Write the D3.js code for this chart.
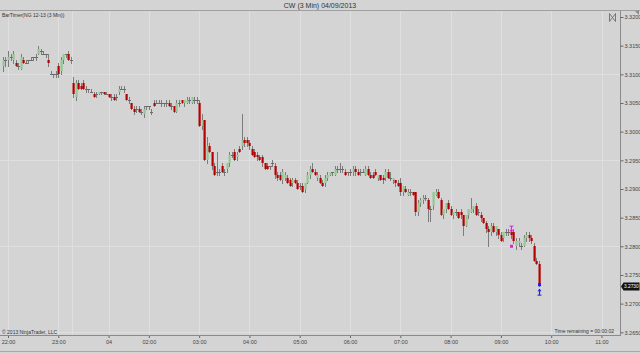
<!DOCTYPE html>
<html>
<head>
<meta charset="utf-8">
<script src="https://cdn.jsdelivr.net/npm/d3@7"></script>
<style>
  body { margin: 0; background: #d4d4d4; }
  svg { display: block; font-family: "Liberation Sans", Arial, sans-serif; }
</style>
</head>
<body>
<script>
// ---- data ----
var title = "CW (3 Min)  04/09/2013";
var timeLabels = ["22:00","23:00","04","02:00","03:00","04:00","05:00","06:00","07:00","08:00","09:00","10:00","11:00"];
var timeSlots  = [0, 20, 40, 56, 76, 96, 116, 136, 156, 176, 196, 216, 236];
var sessionBreakSlot = 25.5;
var priceTicks = [3.2650,3.2700,3.2750,3.2800,3.2850,3.2900,3.2950,3.3000,3.3050,3.3100,3.3150,3.3200];
var gridPrices = [3.3100, 3.2950, 3.2800, 3.2650];
var lastPrice = 3.2730;
var firstSlot = -2;

// open, high, low, close per 3 min bar
var bars = [
[3.3115,3.3130,3.3105,3.3125],[3.3125,3.3130,3.3115,3.3125],[3.3125,3.3140,3.3115,3.3130],[3.3130,3.3135,3.3125,3.3130],
[3.3125,3.3140,3.3120,3.3135],[3.3120,3.3125,3.3115,3.3115],[3.3115,3.3120,3.3110,3.3115],[3.3110,3.3135,3.3110,3.3130],
[3.3125,3.3130,3.3120,3.3120],[3.3120,3.3125,3.3120,3.3120],[3.3125,3.3125,3.3120,3.3125],[3.3125,3.3130,3.3125,3.3125],
[3.3130,3.3130,3.3125,3.3130],[3.3130,3.3135,3.3125,3.3130],[3.3135,3.3150,3.3135,3.3145],[3.3140,3.3145,3.3135,3.3140],
[3.3135,3.3140,3.3135,3.3135],[3.3135,3.3135,3.3130,3.3135],[3.3125,3.3135,3.3115,3.3120],[3.3100,3.3105,3.3100,3.3100],
[3.3100,3.3100,3.3095,3.3100],[3.3100,3.3105,3.3095,3.3100],[3.3115,3.3120,3.3095,3.3100],[3.3105,3.3130,3.3100,3.3125],
[3.3125,3.3135,3.3120,3.3135],[3.3135,3.3135,3.3130,3.3135],[3.3135,3.3140,3.3125,3.3125],[3.3125,3.3130,3.3120,3.3125],
[3.3085,3.3095,3.3060,3.3065],[3.3060,3.3090,3.3055,3.3085],[3.3085,3.3090,3.3075,3.3075],[3.3080,3.3085,3.3075,3.3075],
[3.3085,3.3090,3.3075,3.3075],[3.3075,3.3080,3.3070,3.3075],[3.3075,3.3075,3.3070,3.3075],[3.3070,3.3075,3.3070,3.3070],
[3.3065,3.3070,3.3060,3.3060],[3.3065,3.3070,3.3060,3.3065],[3.3065,3.3070,3.3065,3.3070],[3.3070,3.3070,3.3065,3.3070],
[3.3070,3.3070,3.3065,3.3065],[3.3065,3.3070,3.3065,3.3065],[3.3065,3.3065,3.3060,3.3060],[3.3060,3.3065,3.3055,3.3060],
[3.3060,3.3065,3.3055,3.3055],[3.3060,3.3065,3.3055,3.3060],[3.3070,3.3080,3.3065,3.3075],[3.3075,3.3080,3.3075,3.3075],
[3.3075,3.3080,3.3070,3.3075],[3.3065,3.3065,3.3055,3.3055],[3.3055,3.3060,3.3050,3.3055],[3.3050,3.3050,3.3040,3.3040],
[3.3040,3.3045,3.3030,3.3035],[3.3040,3.3045,3.3035,3.3040],[3.3040,3.3045,3.3035,3.3035],[3.3035,3.3040,3.3030,3.3035],
[3.3030,3.3045,3.3025,3.3040],[3.3045,3.3045,3.3040,3.3045],[3.3045,3.3045,3.3040,3.3045],[3.3035,3.3040,3.3030,3.3035],
[3.3050,3.3055,3.3045,3.3045],[3.3050,3.3055,3.3050,3.3050],[3.3050,3.3055,3.3050,3.3050],[3.3050,3.3055,3.3045,3.3050],
[3.3050,3.3050,3.3045,3.3050],[3.3050,3.3055,3.3045,3.3050],[3.3050,3.3055,3.3045,3.3045],[3.3045,3.3050,3.3040,3.3045],
[3.3045,3.3045,3.3035,3.3035],[3.3035,3.3055,3.3035,3.3050],[3.3050,3.3055,3.3045,3.3050],[3.3055,3.3055,3.3050,3.3050],
[3.3050,3.3055,3.3045,3.3055],[3.3050,3.3060,3.3050,3.3055],[3.3055,3.3060,3.3050,3.3055],[3.3050,3.3060,3.3050,3.3060],
[3.3055,3.3060,3.3050,3.3055],[3.3055,3.3060,3.3050,3.3055],[3.3050,3.3055,3.3010,3.3010],[3.3010,3.3030,3.3005,3.3020],
[3.3020,3.3020,3.2950,3.2950],[3.2950,3.2990,3.2945,3.2975],[3.2975,3.2980,3.2965,3.2965],[3.2965,3.2965,3.2935,3.2940],
[3.2940,3.2945,3.2925,3.2925],[3.2930,3.2965,3.2925,3.2930],[3.2930,3.2935,3.2925,3.2930],[3.2940,3.2945,3.2930,3.2930],
[3.2930,3.2935,3.2925,3.2930],[3.2935,3.2945,3.2930,3.2945],[3.2945,3.2965,3.2940,3.2960],[3.2960,3.2965,3.2955,3.2960],
[3.2965,3.2970,3.2950,3.2950],[3.2955,3.2965,3.2950,3.2960],[3.2970,3.2975,3.2965,3.2965],[3.2975,3.3030,3.2970,3.2985],
[3.2985,3.2990,3.2975,3.2980],[3.2985,3.2990,3.2975,3.2980],[3.2980,3.2985,3.2970,3.2975],[3.2970,3.2975,3.2960,3.2960],
[3.2965,3.2970,3.2955,3.2955],[3.2960,3.2965,3.2950,3.2955],[3.2955,3.2960,3.2950,3.2950],[3.2955,3.2960,3.2940,3.2945],
[3.2945,3.2945,3.2935,3.2935],[3.2940,3.2945,3.2935,3.2935],[3.2940,3.2940,3.2935,3.2940],[3.2945,3.2950,3.2940,3.2945],
[3.2940,3.2945,3.2920,3.2925],[3.2925,3.2930,3.2915,3.2920],[3.2925,3.2930,3.2915,3.2915],[3.2915,3.2935,3.2910,3.2930],
[3.2920,3.2930,3.2915,3.2925],[3.2920,3.2925,3.2910,3.2910],[3.2915,3.2920,3.2905,3.2905],[3.2910,3.2920,3.2905,3.2915],
[3.2915,3.2920,3.2910,3.2910],[3.2910,3.2915,3.2900,3.2900],[3.2905,3.2910,3.2900,3.2905],[3.2905,3.2910,3.2895,3.2895],
[3.2900,3.2910,3.2895,3.2910],[3.2910,3.2930,3.2910,3.2925],[3.2925,3.2940,3.2920,3.2935],[3.2935,3.2945,3.2930,3.2930],
[3.2930,3.2935,3.2925,3.2925],[3.2920,3.2930,3.2915,3.2925],[3.2920,3.2925,3.2910,3.2910],[3.2910,3.2915,3.2905,3.2905],
[3.2910,3.2925,3.2905,3.2920],[3.2920,3.2930,3.2915,3.2925],[3.2925,3.2930,3.2925,3.2930],[3.2930,3.2930,3.2925,3.2930],
[3.2925,3.2940,3.2925,3.2935],[3.2935,3.2940,3.2930,3.2935],[3.2935,3.2945,3.2930,3.2935],[3.2935,3.2940,3.2930,3.2935],
[3.2930,3.2935,3.2925,3.2925],[3.2930,3.2930,3.2925,3.2930],[3.2930,3.2935,3.2925,3.2930],[3.2930,3.2940,3.2925,3.2935],
[3.2935,3.2940,3.2925,3.2930],[3.2930,3.2935,3.2925,3.2925],[3.2930,3.2935,3.2925,3.2930],[3.2930,3.2935,3.2930,3.2930],
[3.2925,3.2940,3.2925,3.2935],[3.2935,3.2940,3.2925,3.2925],[3.2925,3.2930,3.2920,3.2920],[3.2925,3.2930,3.2920,3.2920],
[3.2930,3.2935,3.2925,3.2925],[3.2920,3.2925,3.2915,3.2925],[3.2925,3.2925,3.2915,3.2915],[3.2920,3.2925,3.2910,3.2915],
[3.2920,3.2935,3.2915,3.2930],[3.2930,3.2935,3.2920,3.2920],[3.2920,3.2930,3.2915,3.2920],[3.2915,3.2920,3.2910,3.2920],
[3.2915,3.2915,3.2905,3.2910],[3.2910,3.2915,3.2905,3.2905],[3.2910,3.2920,3.2890,3.2895],[3.2895,3.2905,3.2890,3.2905],
[3.2900,3.2905,3.2895,3.2895],[3.2890,3.2900,3.2890,3.2895],[3.2895,3.2900,3.2890,3.2895],[3.2895,3.2895,3.2890,3.2890],
[3.2895,3.2895,3.2855,3.2860],[3.2860,3.2880,3.2855,3.2875],[3.2875,3.2885,3.2870,3.2880],[3.2880,3.2890,3.2875,3.2885],
[3.2885,3.2890,3.2880,3.2885],[3.2880,3.2885,3.2845,3.2865],[3.2865,3.2870,3.2845,3.2865],[3.2870,3.2895,3.2865,3.2895],
[3.2890,3.2900,3.2890,3.2895],[3.2895,3.2900,3.2885,3.2885],[3.2880,3.2885,3.2855,3.2855],[3.2855,3.2865,3.2850,3.2865],
[3.2865,3.2875,3.2860,3.2875],[3.2875,3.2880,3.2865,3.2865],[3.2865,3.2870,3.2855,3.2855],[3.2855,3.2860,3.2850,3.2860],
[3.2860,3.2865,3.2855,3.2860],[3.2860,3.2860,3.2850,3.2850],[3.2860,3.2865,3.2850,3.2855],[3.2855,3.2855,3.2820,3.2835],
[3.2835,3.2855,3.2835,3.2855],[3.2855,3.2865,3.2850,3.2865],[3.2860,3.2885,3.2860,3.2865],[3.2865,3.2870,3.2860,3.2870],
[3.2870,3.2875,3.2855,3.2855],[3.2860,3.2865,3.2855,3.2860],[3.2855,3.2860,3.2845,3.2850],[3.2850,3.2850,3.2840,3.2840],
[3.2840,3.2845,3.2825,3.2830],[3.2830,3.2835,3.2800,3.2825],[3.2825,3.2840,3.2820,3.2835],[3.2835,3.2840,3.2825,3.2825],
[3.2825,3.2835,3.2820,3.2835],[3.2830,3.2830,3.2815,3.2820],[3.2820,3.2825,3.2810,3.2810],[3.2815,3.2825,3.2810,3.2825],
[3.2825,3.2830,3.2820,3.2825],[3.2825,3.2830,3.2820,3.2825],[3.2825,3.2825,3.2815,3.2820],[3.2825,3.2830,3.2805,3.2810],
[3.2800,3.2815,3.2795,3.2810],[3.2805,3.2815,3.2800,3.2810],[3.2800,3.2805,3.2795,3.2800],[3.2800,3.2820,3.2800,3.2815],
[3.2815,3.2825,3.2810,3.2820],[3.2820,3.2825,3.2810,3.2815],[3.2815,3.2820,3.2805,3.2810],[3.2800,3.2805,3.2775,3.2775],
[3.2775,3.2780,3.2770,3.2770],[3.2770,3.2775,3.2730,3.2730]
];

// indicator arrows: bar slot, price, colour, direction
var markerSlots  = [200, 200, 211, 211];
var markerPrices = [3.2830, 3.2800, 3.2733, 3.2720];
var markerColors = ["#e020e0", "#e020e0", "#2020e0", "#2020e0"];
var markerKinds  = ["down", "dot", "dot", "up"];

// ---- layout ----
var width = 640, height = 353;
var plotRight = 620, plotTop = 11, plotBottom = 336;

var x = d3.scaleLinear().domain([0, 236]).range([8, 601.5]);
var y = d3.scaleLinear().domain([3.2650, 3.3200]).range([332.3, 17]);

var svg = d3.select("body").append("svg")
    .attr("width", width)
    .attr("height", height);

svg.append("rect").attr("width", width).attr("height", height).attr("fill", "#d4d4d4");

// title
svg.append("text")
    .attr("x", width / 2).attr("y", 7.5)
    .attr("text-anchor", "middle")
    .attr("font-size", 7).attr("fill", "#333")
    .text(title);

svg.append("line").attr("x1", 0).attr("x2", width).attr("y1", 10.5).attr("y2", 10.5)
    .attr("stroke", "#a0a0a0");

// grid
var grid = svg.append("g").attr("stroke", "#dfdfdf").attr("stroke-width", 1);
grid.selectAll(".vg").data(timeSlots.concat([sessionBreakSlot])).enter().append("line")
    .attr("x1", function(d) { return Math.round(x(d)) + 0.5; })
    .attr("x2", function(d) { return Math.round(x(d)) + 0.5; })
    .attr("y1", plotTop).attr("y2", plotBottom);
grid.selectAll(".hg").data(gridPrices).enter().append("line")
    .attr("x1", 0).attr("x2", plotRight)
    .attr("y1", function(d) { return Math.round(y(d)) + 0.5; })
    .attr("y2", function(d) { return Math.round(y(d)) + 0.5; });

// borders
svg.append("line").attr("x1", plotRight + 0.5).attr("x2", plotRight + 0.5)
    .attr("y1", plotTop).attr("y2", plotBottom).attr("stroke", "#8a8a8a");
svg.append("line").attr("x1", 0).attr("x2", plotRight + 1)
    .attr("y1", plotBottom - 0.5).attr("y2", plotBottom - 0.5).attr("stroke", "#8a8a8a");
svg.append("line").attr("x1", 0).attr("x2", width)
    .attr("y1", height - 1.5).attr("y2", height - 1.5).attr("stroke", "#a8a8a8");

// right price axis
var yAxis = d3.axisRight(y).tickValues(priceTicks).tickFormat(d3.format(".4f")).tickSize(3).tickPadding(1);
var ya = svg.append("g").attr("transform", "translate(" + (plotRight + 0.5) + ",0)").call(yAxis);
ya.select(".domain").remove();
ya.selectAll("line").attr("stroke", "#666");
ya.selectAll("text").attr("font-size", 5.5).attr("fill", "#444")
    .attr("font-family", "'Liberation Sans', Arial, sans-serif");

// bottom time axis
var xAxis = d3.axisBottom(x).tickValues(timeSlots)
    .tickFormat(function(d, i) { return timeLabels[i]; }).tickSize(2).tickPadding(2);
var xa = svg.append("g").attr("transform", "translate(0," + plotBottom + ")").call(xAxis);
xa.select(".domain").remove();
xa.selectAll("line").attr("stroke", "#666");
xa.selectAll("text").attr("font-size", 5.5).attr("fill", "#444")
    .attr("font-family", "'Liberation Sans', Arial, sans-serif");

// candles
var candles = svg.append("g").selectAll("g").data(bars).enter().append("g");
function cx(i) { return Math.round(x(firstSlot + i)) + 0.5; }

candles.append("line")
    .attr("x1", function(d, i) { return cx(i); })
    .attr("x2", function(d, i) { return cx(i); })
    .attr("y1", function(d) { return Math.round(y(d[1])); })
    .attr("y2", function(d) { return Math.round(y(d[2])) + 1; })
    .attr("stroke", "#7c7c7c");

candles.each(function(d, i) {
  var g = d3.select(this);
  var o = d[0], c = d[3];
  if (o === c) {
    g.append("line")
      .attr("x1", cx(i) - 1.5).attr("x2", cx(i) + 1.5)
      .attr("y1", Math.round(y(o)) + 0.5).attr("y2", Math.round(y(o)) + 0.5)
      .attr("stroke", "#6a6a6a");
  } else {
    var top = Math.round(y(Math.max(o, c))), bot = Math.round(y(Math.min(o, c)));
    g.append("rect")
      .attr("x", cx(i) - 1).attr("width", 2.2)
      .attr("y", top).attr("height", Math.max(1, bot - top))
      .attr("fill", c > o ? "#94c794" : "#b40000");
  }
});

// indicator markers
markerSlots.forEach(function(s, i) {
  var mx = Math.round(x(s)) + 0.5, my = y(markerPrices[i]), col = markerColors[i];
  if (markerKinds[i] === "dot") {
    svg.append("rect").attr("x", mx - 1.5).attr("y", my - 1.5).attr("width", 3).attr("height", 3).attr("fill", col);
  } else {
    var dir = markerKinds[i] === "up" ? -1 : 1;
    svg.append("line").attr("x1", mx).attr("x2", mx).attr("y1", my - 3 * dir).attr("y2", my + 3 * dir)
      .attr("stroke", col).attr("stroke-width", 1.2);
    svg.append("path")
      .attr("d", "M" + (mx - 2) + "," + (my + 1 * dir) + "L" + mx + "," + (my + 3.5 * dir) + "L" + (mx + 2) + "," + (my + 1 * dir) + "Z")
      .attr("fill", col);
    svg.append("line").attr("x1", mx - 2).attr("x2", mx + 2).attr("y1", my - 3 * dir).attr("y2", my - 3 * dir)
      .attr("stroke", col);
  }
});

// last price flag
var ly = Math.round(y(lastPrice)) + 0.5;
svg.append("path")
    .attr("d", "M" + (plotRight + 1) + "," + ly + "L" + (plotRight + 3.5) + "," + (ly - 4) + "L639.5," + (ly - 4) +
      "L639.5," + (ly + 4) + "L" + (plotRight + 3.5) + "," + (ly + 4) + "Z")
    .attr("fill", "#111");
svg.append("text").attr("x", plotRight + 4).attr("y", ly + 1.8)
    .attr("font-size", 4.8).attr("fill", "#fff").text(d3.format(".4f")(lastPrice));

// labels
svg.append("text").attr("x", 2).attr("y", 17).attr("font-size", 5).attr("fill", "#333")
    .text("BarTimer(NG 12-13 (3 Min))");
svg.append("text").attr("x", 2).attr("y", 334).attr("font-size", 5).attr("fill", "#333")
    .text("\u00a9 2013 NinjaTrader, LLC");
svg.append("text").attr("x", 614).attr("y", 333).attr("text-anchor", "end")
    .attr("font-size", 5).attr("fill", "#333").text("Time remaining = 00:00:02");

// small window icon, top right of the panel
svg.append("path")
    .attr("d", "M609.5,13.5L609.5,21.5L615.5,13.5L615.5,21.5Z")
    .attr("fill", "none").attr("stroke", "#777");
svg.append("path").attr("d", "M635,11L639,11L639,15Z").attr("fill", "#888");
</script>
</body>
</html>
